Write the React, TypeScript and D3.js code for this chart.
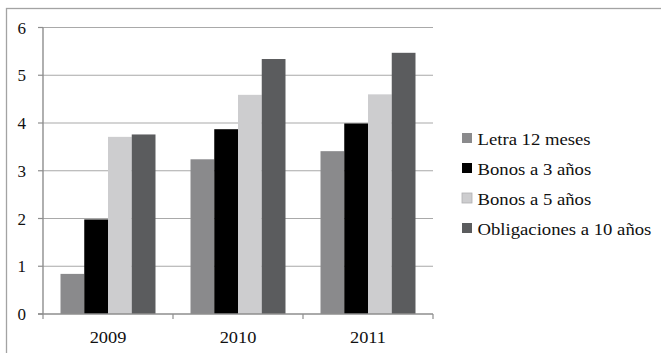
import React from "react";
import * as d3 from "d3";

const years = ["2009", "2010", "2011"];
const seriesNames = [
  "Letra 12 meses",
  "Bonos a 3 años",
  "Bonos a 5 años",
  "Obligaciones a 10 años",
];
const letra12 = [0.84, 3.24, 3.41];
const bonos3 = [1.98, 3.87, 3.99];
const bonos5 = [3.71, 4.59, 4.6];
const oblig10 = [3.76, 5.34, 5.47];
const yTicks = [0, 1, 2, 3, 4, 5, 6];
const seriesColors = ["#8a8a8c", "#000000", "#cdcdcf", "#5b5c5e"];

const W = 661;
const H = 353;
const FONT = '"Liberation Serif", Tinos, "Times New Roman", Times, "DejaVu Serif", serif';

export default function App() {
  const values = [letra12, bonos3, bonos5, oblig10];
  const plot = { left: 43, right: 433, top: 27.5, bottom: 314 };

  const x0 = d3.scaleBand<string>().domain(years).range([plot.left, plot.right]).paddingInner(0).paddingOuter(0);
  const x1 = d3
    .scaleBand<string>()
    .domain(seriesNames)
    .range([0, x0.bandwidth()])
    .paddingInner(0)
    .paddingOuter(0.737);
  const y = d3.scaleLinear().domain([0, 6]).range([plot.bottom, plot.top]);

  const gridColor = "#a9a9a9";
  const axisColor = "#8e8e8e";

  const legendX = 462;
  const legendY0 = 133;
  const legendStep = 30;
  const textStyle = { fontFamily: FONT, fontSize: "17px" };

  return (
    <div style={{ position: "absolute", left: 0, top: 0 }}>
      <svg width={W} height={H} style={{ display: "block" }}>
        <rect x={0} y={0} width={W} height={H} fill="#ffffff" />
        <rect x={6.5} y={8.5} width={W + 10} height={H + 10} fill="none" stroke="#a3a3a3" strokeWidth={1.3} />

        {/* horizontal gridlines and y ticks */}
        {yTicks.map((t) => (
          <g key={t}>
            {t > 0 && (
              <line x1={plot.left} x2={plot.right} y1={y(t)} y2={y(t)} stroke={gridColor} strokeWidth={1.2} />
            )}
            <line x1={plot.left - 5} x2={plot.left} y1={y(t)} y2={y(t)} stroke={axisColor} strokeWidth={1.2} />
            <text x={26} y={y(t) + 6} textAnchor="end" style={textStyle} fill="#111">
              {t}
            </text>
          </g>
        ))}

        {/* bars */}
        {years.map((yr, i) => (
          <g key={yr} transform={`translate(${x0(yr)},0)`}>
            {seriesNames.map((s, j) => (
              <rect
                key={s}
                x={x1(s)}
                y={y(values[j][i])}
                width={x1.bandwidth()}
                height={y(0) - y(values[j][i])}
                fill={seriesColors[j]}
              />
            ))}
          </g>
        ))}

        {/* axes */}
        <line x1={plot.left} x2={plot.left} y1={plot.top} y2={plot.bottom} stroke={axisColor} strokeWidth={1.4} />
        <line x1={plot.left - 5} x2={plot.right} y1={plot.bottom} y2={plot.bottom} stroke={axisColor} strokeWidth={1.4} />
        {[...years.map((yr) => x0(yr) as number), plot.right].map((xv, i) => (
          <line key={i} x1={xv} x2={xv} y1={plot.bottom} y2={plot.bottom + 5} stroke={axisColor} strokeWidth={1.2} />
        ))}
        {years.map((yr) => (
          <text
            key={yr}
            transform={`translate(${(x0(yr) as number) + x0.bandwidth() / 2},343) scale(1.08,1)`}
            textAnchor="middle"
            style={textStyle}
            fill="#111"
          >
            {yr}
          </text>
        ))}

        {/* legend */}
        {seriesNames.map((s, j) => (
          <g key={s} transform={`translate(${legendX},${legendY0 + j * legendStep})`}>
            <rect x={0} y={0} width={10} height={10} fill={seriesColors[j]} stroke={j === 2 ? "#b0b0b2" : "none"} strokeWidth={0.8} />
            <text transform="translate(15.5,11.5) scale(1.1,1)" style={textStyle} fill="#111">
              {s}
            </text>
          </g>
        ))}
      </svg>
    </div>
  );
}
